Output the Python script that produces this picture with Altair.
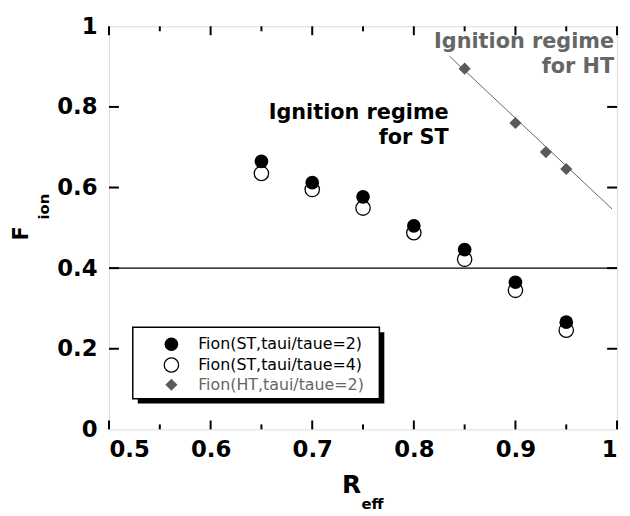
import altair as alt
import pandas as pd

# ---- data ----
st_x = [0.65, 0.70, 0.75, 0.80, 0.85, 0.90, 0.95]
st_tau2 = [0.665, 0.612, 0.577, 0.505, 0.446, 0.365, 0.266]
st_tau4 = [0.635, 0.595, 0.549, 0.488, 0.422, 0.345, 0.246]
ht_x = [0.85, 0.90, 0.93, 0.95]
ht_tau2 = [0.895, 0.760, 0.688, 0.646]
ht_fit_x = [0.835, 0.995]
ht_fit_y = [0.926, 0.547]
threshold = [0.4]
x_major = [0.5, 0.6, 0.7, 0.8, 0.9, 1.0]
x_minor = [0.55, 0.65, 0.75, 0.85, 0.95]
y_major = [0.2, 0.4, 0.6, 0.8]
legend_labels = ["Fion(ST,taui/taue=2)", "Fion(ST,taui/taue=4)", "Fion(HT,taui/taue=2)"]

W, H = 513, 407
FONT = "DejaVu Sans"
GRAY = "#5a5a5a"

xs = alt.Scale(domain=[0.5, 1.0], nice=False, zero=False)
ys = alt.Scale(domain=[0, 1], nice=False, zero=False)

df_st = pd.DataFrame({"x": st_x, "a": st_tau2, "b": st_tau4})
df_ht = pd.DataFrame({"x": ht_x, "y": ht_tau2})
df_fit = pd.DataFrame({"x": ht_fit_x, "y": ht_fit_y})

base_x = alt.X("x:Q", scale=xs, axis=alt.Axis(
    values=x_major, ticks=False, domain=False, grid=False, title=None,
    labelFont=FONT, labelFontSize=23, labelFontWeight="bold", labelColor="black",
    labelPadding=9,
    labelExpr="datum.value == 1 ? '1' : format(datum.value, '.1f')"))
base_y_axis = alt.Axis(
    values=[0, 0.2, 0.4, 0.6, 0.8, 1.0], ticks=False, domain=False, grid=False, title=None,
    labelFont=FONT, labelFontSize=23, labelFontWeight="bold", labelColor="black",
    labelPadding=12,
    labelExpr="datum.value == 1 ? '1' : (datum.value == 0 ? '0' : format(datum.value, '.1f'))")

hline = alt.Chart(pd.DataFrame({"y": threshold})).mark_rule(color="black", strokeWidth=1.2).encode(
    y=alt.Y("y:Q", scale=ys, axis=base_y_axis), x=alt.value(0), x2=alt.value(W))

fit = alt.Chart(df_fit).mark_line(color="#666666", strokeWidth=1).encode(
    x=base_x, y=alt.Y("y:Q", scale=ys))

open_c = alt.Chart(df_st).mark_point(shape="circle", filled=False, fill="white", fillOpacity=1,
                                     stroke="black", strokeWidth=1.3, size=210, opacity=1).encode(
    x=alt.X("x:Q", scale=xs), y=alt.Y("b:Q", scale=ys))
fill_c = alt.Chart(df_st).mark_point(shape="circle", filled=True, color="black", size=190, opacity=1).encode(
    x=alt.X("x:Q", scale=xs), y=alt.Y("a:Q", scale=ys))
dia = alt.Chart(df_ht).mark_point(shape="diamond", filled=True, color=GRAY, size=150, opacity=1).encode(
    x=alt.X("x:Q", scale=xs), y=alt.Y("y:Q", scale=ys))

# annotations
st_txt = alt.Chart(pd.DataFrame({"t": ["Ignition regime", "for ST"], "py": [88, 113]})).mark_text(
    font=FONT, fontSize=21, fontWeight="bold", align="right", baseline="middle", color="black").encode(
    text="t:N", x=alt.value(343), y=alt.Y("py:Q", scale=None))
ht_txt = alt.Chart(pd.DataFrame({"t": ["Ignition regime", "for HT"], "py": [16, 41]})).mark_text(
    font=FONT, fontSize=21, fontWeight="bold", align="right", baseline="middle", color="#666666").encode(
    text="t:N", x=alt.value(510), y=alt.Y("py:Q", scale=None))

# inward ticks
tb_major = alt.Chart(pd.DataFrame({"x": x_major})).mark_rule(color="black", strokeWidth=2).encode(
    x=alt.X("x:Q", scale=xs), y=alt.value(H), y2=alt.value(H - 9))
tb_minor = alt.Chart(pd.DataFrame({"x": x_minor})).mark_rule(color="black", strokeWidth=2).encode(
    x=alt.X("x:Q", scale=xs), y=alt.value(H), y2=alt.value(H - 5))
tt_major = alt.Chart(pd.DataFrame({"x": x_major})).mark_rule(color="black", strokeWidth=2).encode(
    x=alt.X("x:Q", scale=xs), y=alt.value(0), y2=alt.value(9))
tt_minor = alt.Chart(pd.DataFrame({"x": x_minor})).mark_rule(color="black", strokeWidth=2).encode(
    x=alt.X("x:Q", scale=xs), y=alt.value(0), y2=alt.value(5))
tl = alt.Chart(pd.DataFrame({"y": y_major})).mark_rule(color="black", strokeWidth=2).encode(
    y=alt.Y("y:Q", scale=ys), x=alt.value(0), x2=alt.value(10))
tr = alt.Chart(pd.DataFrame({"y": y_major})).mark_rule(color="black", strokeWidth=2).encode(
    y=alt.Y("y:Q", scale=ys), x=alt.value(W - 10), x2=alt.value(W))

# axis titles with subscripts
r_t = alt.Chart(pd.DataFrame({"t": ["R"]})).mark_text(
    font=FONT, fontSize=25, fontWeight="bold", align="center", baseline="alphabetic", color="black").encode(
    text="t:N", x=alt.value(245), y=alt.value(471))
eff_t = alt.Chart(pd.DataFrame({"t": ["eff"]})).mark_text(
    font=FONT, fontSize=15, fontWeight="bold", align="left", baseline="alphabetic", color="black").encode(
    text="t:N", x=alt.value(255), y=alt.value(487))
f_t = alt.Chart(pd.DataFrame({"t": ["F"]})).mark_text(
    font=FONT, fontSize=21, fontWeight="bold", align="center", baseline="alphabetic", angle=270, color="black").encode(
    text="t:N", x=alt.value(-82), y=alt.value(209))
ion_t = alt.Chart(pd.DataFrame({"t": ["ion"]})).mark_text(
    font=FONT, fontSize=15, fontWeight="bold", align="center", baseline="alphabetic", angle=270, color="black").encode(
    text="t:N", x=alt.value(-61), y=alt.value(182))

# legend
shadow = alt.Chart(pd.DataFrame({"k": [0]})).mark_rect(color="black").encode(
    x=alt.value(29), x2=alt.value(278), y=alt.value(309), y2=alt.value(381))
box = alt.Chart(pd.DataFrame({"k": [0]})).mark_rect(fill="white", stroke="black", strokeWidth=1.5).encode(
    x=alt.value(24), x2=alt.value(273), y=alt.value(304), y2=alt.value(376))
leg_df = pd.DataFrame({"t": legend_labels, "py": [321, 342, 362]})
leg_txt = alt.Chart(leg_df).mark_text(font=FONT, fontSize=16, align="left", baseline="middle").encode(
    text="t:N", x=alt.value(90), y=alt.Y("py:Q", scale=None),
    color=alt.Color("t:N", scale=alt.Scale(domain=legend_labels, range=["black", "black", "#666666"]), legend=None))
leg_s1 = alt.Chart(leg_df.iloc[[0]]).mark_point(shape="circle", filled=True, color="black", size=190, opacity=1).encode(
    x=alt.value(63), y=alt.Y("py:Q", scale=None))
leg_s2 = alt.Chart(leg_df.iloc[[1]]).mark_point(shape="circle", filled=False, fill="white", stroke="black",
                                                strokeWidth=1.3, size=210, opacity=1).encode(
    x=alt.value(63), y=alt.Y("py:Q", scale=None))
leg_s3 = alt.Chart(leg_df.iloc[[2]]).mark_point(shape="diamond", filled=True, color=GRAY, size=150, opacity=1).encode(
    x=alt.value(63), y=alt.Y("py:Q", scale=None))

xaxis_layer = alt.Chart(pd.DataFrame({"x": x_major})).mark_point(opacity=0).encode(x=base_x)

chart = alt.layer(
    hline, fit, xaxis_layer, open_c, fill_c, dia, st_txt, ht_txt,
    tb_major, tb_minor, tt_major, tt_minor, tl, tr,
    r_t, eff_t, f_t, ion_t,
    shadow, box, leg_txt, leg_s1, leg_s2, leg_s3,
).properties(
    width=W, height=H, autosize="none",
    padding={"left": 102, "top": 16, "right": 5, "bottom": 86},
).configure_view(stroke="black", strokeWidth=2).configure(background="white")

chart.save("out.html", embed_options={"renderer": "svg", "actions": False})
